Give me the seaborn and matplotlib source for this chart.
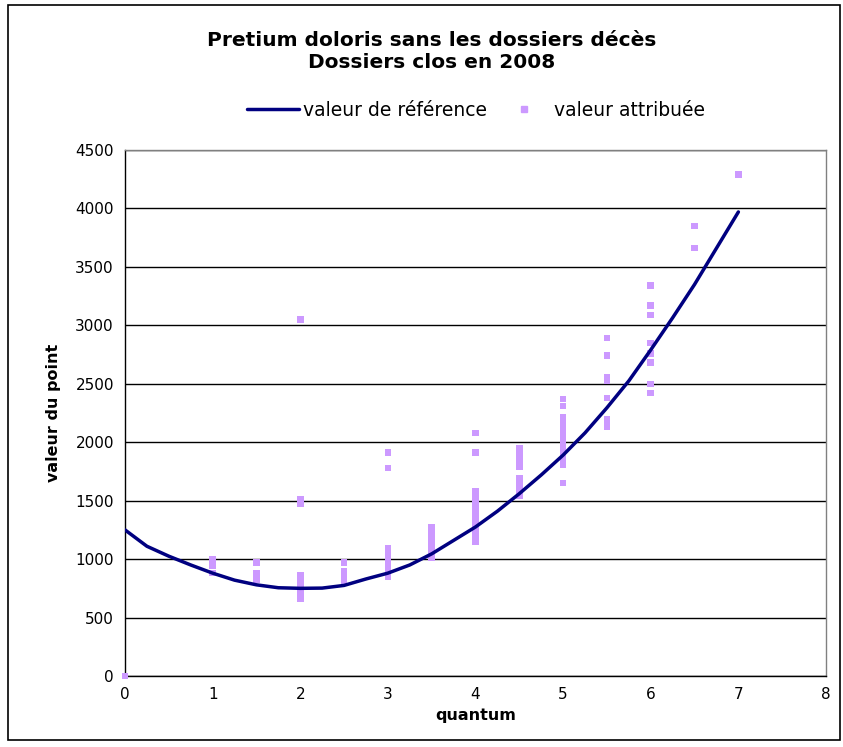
import numpy as np
import pandas as pd
import matplotlib
matplotlib.use("Agg")
import matplotlib.pyplot as plt
import seaborn as sns
from matplotlib.patches import Rectangle
from matplotlib.lines import Line2D

# Reference curve
ref_x = [0, 0.25, 0.5, 0.75, 1, 1.25, 1.5, 1.75, 2, 2.25, 2.5, 2.75, 3, 3.25, 3.5,
         3.75, 4, 4.25, 4.5, 4.75, 5, 5.25, 5.5, 5.75, 6, 6.25, 6.5, 6.75, 7]
ref_y = [1250, 1110, 1025, 950, 880, 820, 780, 755, 750, 752, 775, 830, 880, 950, 1045,
         1160, 1275, 1410, 1560, 1720, 1890, 2080, 2295, 2525, 2790, 3065, 3350, 3660, 3970]

# Attributed values
pts = {
    0: [0],
    1: [880, 940, 975, 1000],
    1.5: [970, 880, 850, 820],
    2: [3050, 1510, 1470, 860, 830, 800, 770, 740, 700, 660],
    2.5: [970, 900, 870, 840, 810],
    3: [1910, 1780, 1090, 1060, 1030, 1000, 970, 940, 910, 880, 850],
    3.5: [1270, 1230, 1180, 1130, 1080, 1040, 1010],
    4: [2080, 1910, 1580, 1540, 1500, 1460, 1420, 1380, 1340, 1300, 1260, 1220, 1180, 1150],
    4.5: [1950, 1910, 1870, 1830, 1790, 1690, 1650, 1610, 1570, 1540],
    5: [2370, 2310, 2210, 2170, 2120, 2090, 2060, 2010, 1960, 1920, 1870, 1810, 1650],
    5.5: [2890, 2740, 2560, 2530, 2380, 2200, 2160, 2130],
    6: [3340, 3170, 3090, 2850, 2760, 2680, 2500, 2420],
    6.5: [3850, 3660],
    7: [4290],
}
att_x = [k for k, v in pts.items() for _ in v]
att_y = [y for v in pts.values() for y in v]

ref_df = pd.DataFrame({"quantum": ref_x, "valeur": ref_y})
att_df = pd.DataFrame({"quantum": att_x, "valeur": att_y})

sns.set_style("white")
plt.rcParams['font.family'] = ['DejaVu Sans']
plt.rcParams['text.color'] = 'black'
plt.rcParams['axes.labelcolor'] = 'black'
plt.rcParams['xtick.color'] = 'black'
plt.rcParams['ytick.color'] = 'black'

fig = plt.figure(figsize=(8.43, 7.47), dpi=100)
ax = fig.add_axes([125/843, 1-676/747, (826-125)/843, (676-150)/747])

line_c = "#000080"
pt_c = "#CC99FF"

sns.scatterplot(data=att_df, x="quantum", y="valeur", marker="s", s=22, color=pt_c,
                edgecolor="none", ax=ax, zorder=3, legend=False, clip_on=False)
sns.lineplot(data=ref_df, x="quantum", y="valeur", color=line_c, lw=2.5, ax=ax,
             zorder=4, legend=False)

ax.set_xlim(0, 8)
ax.set_ylim(0, 4500)
ax.set_xticks(range(0, 9))
ax.set_yticks(range(0, 4501, 500))
ax.yaxis.grid(True, color="black", lw=1)
ax.set_axisbelow(True)
for s in ["top", "right"]:
    ax.spines[s].set_color("#808080")
    ax.spines[s].set_linewidth(1)
for s in ["left", "bottom"]:
    ax.spines[s].set_color("black")
    ax.spines[s].set_linewidth(1)
ax.tick_params(axis="both", direction="out", length=5, width=1, color="black",
               labelsize=11, pad=3, labelcolor="black")
ax.set_xlabel("quantum", fontsize=11.5, fontweight="bold", labelpad=4)
ax.set_ylabel("valeur du point", fontsize=11.5, fontweight="bold", labelpad=10)

fig.text(432/843, 1-40/747, "Pretium doloris sans les dossiers décès",
         ha="center", va="center", fontsize=14.5, fontweight="bold")
fig.text(432/843, 1-63/747, "Dossiers clos en 2008",
         ha="center", va="center", fontsize=14.5, fontweight="bold")

handles = [Line2D([], [], color=line_c, lw=2.5),
           Line2D([], [], color=pt_c, marker="s", ls="none", markersize=4)]
fig.legend(handles, ["valeur de référence", "valeur attribuée"],
           loc="center", bbox_to_anchor=(476/843, 1-110/747), ncol=2, frameon=False,
           fontsize=13.5, handlelength=2.8, columnspacing=0.6, handletextpad=0.2)

fig.patches.append(Rectangle((8/843, 7/747), (840-8)/843, (742-7)/747,
                             transform=fig.transFigure, fill=False,
                             edgecolor="black", lw=1.2))

fig.savefig("out.png", dpi=100)
